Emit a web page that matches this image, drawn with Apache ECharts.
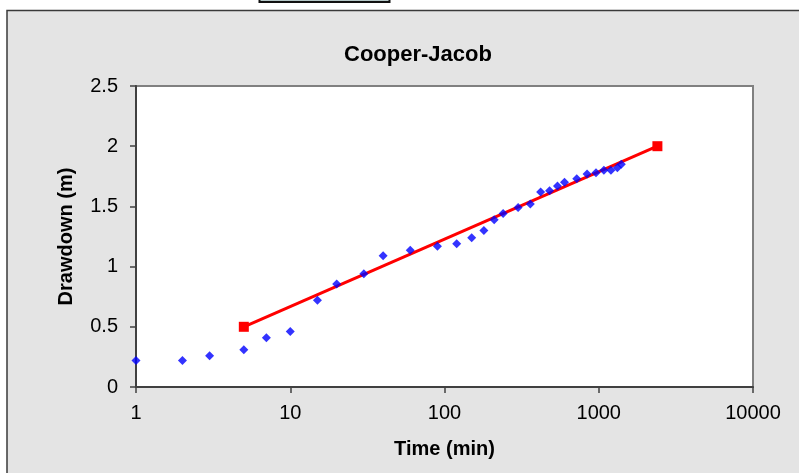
<!DOCTYPE html>
<html>
<head>
<meta charset="utf-8">
<script src="https://cdn.jsdelivr.net/npm/echarts@6/dist/echarts.min.js"></script>
<style>
  html, body { margin: 0; padding: 0; background: #ffffff; }
  #chart { width: 799px; height: 473px; }
</style>
</head>
<body>
<div id="chart"></div>
<script>
// Pumping test: elapsed time (min) and observed drawdown (m)
const timeMin = [1, 2, 3, 5, 7, 10, 15, 20, 30, 40, 60, 90, 120, 150, 180, 210, 240,
                 300, 360, 420, 480, 540, 600, 720, 840, 960, 1080, 1200, 1320, 1400];
const drawdownM = [0.22, 0.22, 0.26, 0.31, 0.41, 0.46, 0.72, 0.855, 0.94, 1.09, 1.135, 1.17, 1.19, 1.24, 1.30, 1.39, 1.44,
                   1.49, 1.52, 1.62, 1.63, 1.67, 1.70, 1.73, 1.77, 1.78, 1.80, 1.80, 1.82, 1.85];

// Cooper-Jacob straight-line fit (two end points)
const fitTime = [5, 2400];
const fitDrawdown = [0.5, 2.0];

// Axis ticks
const xTicks = [1, 10, 100, 1000, 10000];
const yTicks = [0, 0.5, 1, 1.5, 2, 2.5];

const FONT = '"Liberation Sans", Arial, Helvetica, sans-serif';

const chart = echarts.init(document.getElementById('chart'), null, { renderer: 'canvas' });

chart.setOption({
  backgroundColor: '#ffffff',
  animation: false,
  graphic: [
    {
      type: 'rect',
      z: -10,
      shape: { x: 7, y: 10.5, width: 820, height: 480 },
      style: { fill: '#e4e4e4', stroke: '#3a3a3a', lineWidth: 1.5 }
    },
    {
      type: 'rect',
      z: -10,
      shape: { x: 259.5, y: -6, width: 130, height: 8 },
      style: { fill: '#b4c6c6', stroke: '#111111', lineWidth: 2 }
    }
  ],
  title: {
    text: 'Cooper-Jacob',
    left: 413,
    top: 39,
    textAlign: 'center',
    textStyle: { fontFamily: FONT, fontSize: 22, fontWeight: 'bold', color: '#000000' }
  },
  grid: {
    left: 136, top: 86, width: 617, height: 301,
    show: true,
    backgroundColor: '#ffffff',
    borderColor: '#808080',
    borderWidth: 2
  },
  xAxis: {
    type: 'log',
    logBase: 10,
    min: xTicks[0],
    max: xTicks[xTicks.length - 1],
    name: 'Time (min)',
    nameLocation: 'middle',
    nameGap: 52,
    nameTextStyle: { fontFamily: FONT, fontSize: 20, fontWeight: 'bold', color: '#000000' },
    axisLine: { show: true, onZero: false, lineStyle: { color: '#404040', width: 2 } },
    axisTick: { show: true, length: 6, lineStyle: { color: '#404040', width: 1.5 } },
    minorTick: { show: false },
    splitLine: { show: false },
    axisLabel: {
      fontFamily: FONT, fontSize: 20, color: '#000000', margin: 16,
      formatter: (v) => String(Math.round(v))
    }
  },
  yAxis: {
    type: 'value',
    min: yTicks[0],
    max: yTicks[yTicks.length - 1],
    interval: yTicks[1] - yTicks[0],
    name: 'Drawdown (m)',
    nameLocation: 'middle',
    nameGap: 60,
    nameTextStyle: { fontFamily: FONT, fontSize: 20, fontWeight: 'bold', color: '#000000' },
    axisLine: { show: true, onZero: false, lineStyle: { color: '#404040', width: 2 } },
    axisTick: { show: true, length: 6, lineStyle: { color: '#404040', width: 1.5 } },
    splitLine: { show: false },
    axisLabel: { fontFamily: FONT, fontSize: 20, color: '#000000', margin: 18 }
  },
  series: [
    {
      name: 'Fit',
      type: 'line',
      data: fitTime.map((t, i) => [t, fitDrawdown[i]]),
      symbol: 'rect',
      symbolSize: 10,
      itemStyle: { color: '#ff0000' },
      lineStyle: { color: '#ff0000', width: 3 },
      z: 2
    },
    {
      name: 'Observed',
      type: 'scatter',
      data: timeMin.map((t, i) => [t, drawdownM[i]]),
      symbol: 'diamond',
      symbolSize: 9,
      itemStyle: { color: '#0000ff' },
      clip: false,
      z: 3
    }
  ]
});
</script>
</body>
</html>
